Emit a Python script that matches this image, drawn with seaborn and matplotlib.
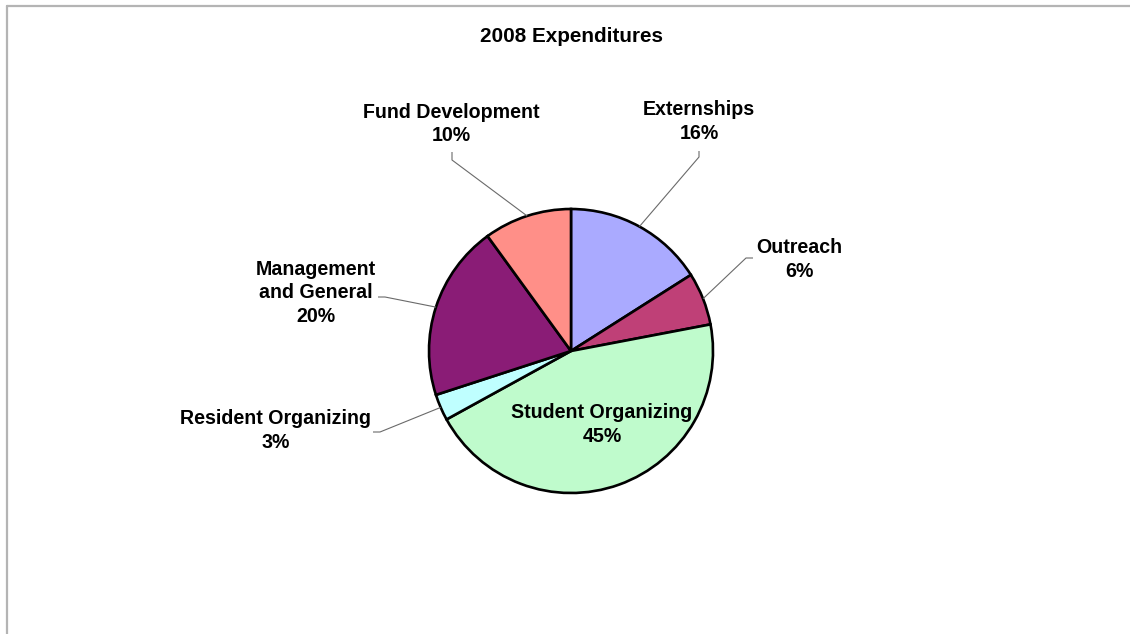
import numpy as np
import matplotlib
matplotlib.use("Agg")
import matplotlib.pyplot as plt
from matplotlib.lines import Line2D
import seaborn as sns

# Expenditure shares (percent), clockwise from 12 o'clock
categories = ["Externships", "Outreach", "Student Organizing",
              "Resident Organizing", "Management\nand General", "Fund Development"]
shares = [16, 6, 45, 3, 20, 10]
slice_colors = ["#AAAAFF", "#BF4077", "#BFFBCC", "#BFFFFF", "#8A1C76", "#FF8F88"]
title = "2008 Expenditures"

sns.set_theme(style="white")
plt.rcParams["font.family"] = ["Liberation Sans", "DejaVu Sans"]

W, H = 1130, 634
fig = plt.figure(figsize=(W / 100, H / 100), dpi=100)
ax = fig.add_axes([0, 0, 1, 1])
ax.set_xlim(0, W)
ax.set_ylim(0, H)
ax.set_aspect("equal")
ax.axis("off")

palette = sns.color_palette(slice_colors)
cx, cy, r = 571, H - 351, 142
wedges, _ = ax.pie(shares, colors=palette, startangle=90, counterclock=False,
                   center=(cx, cy), radius=r,
                   wedgeprops=dict(edgecolor="black", linewidth=1.9))
ax.set_xlim(0, W)
ax.set_ylim(0, H)

def mid_point(w, frac=1.0):
    a = np.deg2rad((w.theta1 + w.theta2) / 2)
    return cx + frac * r * np.cos(a), cy + frac * r * np.sin(a)

txt = dict(ha="center", va="center", fontsize=14.1, fontweight="bold",
           color="black", linespacing=1.31)

# outside labels: (text centre, elbow start, elbow end)
outside = {
    0: ((699, 121.5), (699, 151), (699, 157)),
    1: ((799, 259.5), (753, 258), (746, 258)),
    3: ((276, 430.5), (373, 432), (380, 432)),
    4: ((316, 293), (378, 297), (385, 297)),
    5: ((451, 124), (452, 152), (452, 160)),
}
for i, (tpos, p1, p2) in outside.items():
    label = f"{categories[i]}\n{shares[i]}%"
    ax.text(tpos[0], H - tpos[1], label, **txt)
    ex, ey = mid_point(wedges[i])
    ax.plot([p1[0], p2[0], ex], [H - p1[1], H - p2[1], ey],
            color="#6a6a6a", linewidth=0.8, solid_capstyle="butt")

# inside label for the largest slice
sx, sy = mid_point(wedges[2], 0.56)
ax.text(sx + 4, sy + 1, f"{categories[2]}\n{shares[2]}%", **txt)

ax.text(571, H - 36, title, ha="center", va="center",
        fontsize=14.9, fontweight="bold", color="black")

# thin grey frame along the top and left edges
frame_kw = dict(color="#b4b4b4", linewidth=1.6)
fig.add_artist(Line2D([7 / W, 1], [1 - 6 / H, 1 - 6 / H], **frame_kw))
fig.add_artist(Line2D([7 / W, 7 / W], [0, 1 - 6 / H], **frame_kw))

fig.savefig("out.png", dpi=100, facecolor="white")
